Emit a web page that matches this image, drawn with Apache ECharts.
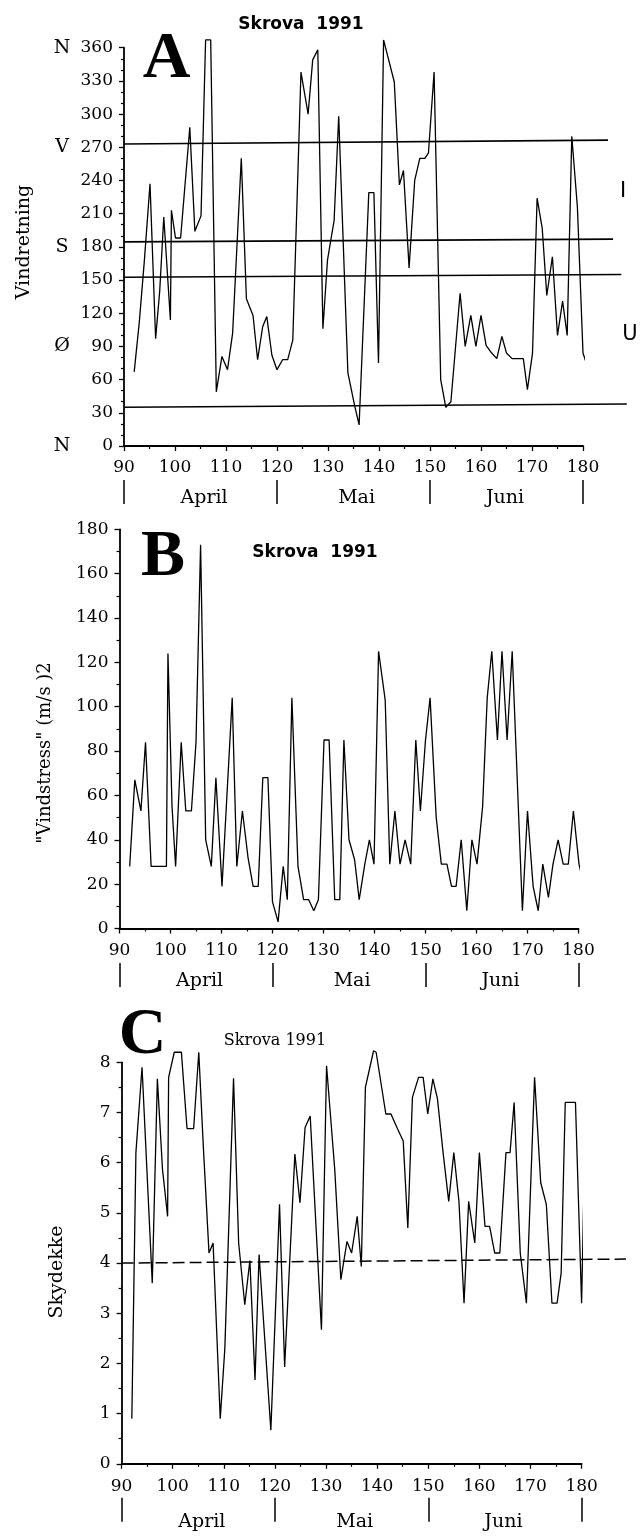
<!DOCTYPE html>
<html><head><meta charset="utf-8">
<script src="https://cdn.jsdelivr.net/npm/echarts@6/dist/echarts.min.js"></script>
<style>html,body{margin:0;padding:0;background:#fff}#c{width:640px;height:1536px}</style>
</head><body><div id="c"></div>
<script>
// ---- Panel A: wind direction (degrees) ----
const dirDays = [92,93,94,95.1,96.2,97,97.8,99.1,99.3,100.1,101.1,102.9,103.9,105.1,106,107,108.1,109.2,110.3,111.3,113,114,115.3,116.2,117.2,118,119,120,121.1,122.1,123.1,124.7,126.1,127,128,129,129.9,131.2,132.1,133.9,135.2,136.1,138,139,139.9,140.9,143,144,144.8,145.9,147,148,149,149.7,150.8,152.1,153.1,154.1,155.9,156.9,158,159,160,161,162.1,163.1,164.1,165,166.1,167.2,168.3,169.1,170.1,171,172,172.9,174,175,176,176.9,177.8,178.9,180,181];
const dirValues = [67,112,168,237,97,140,207,114,213,188,188,288,194,208,367,367,49,81,69,102,260,133,118,78,108,117,82,69,78,78,96,338,300,349,358,106,168,204,298,66,37,19,229,229,75,367,329,236,249,161,240,260,260,265,338,60,35,40,138,90,118,90,118,91,84,79,99,84,79,79,79,51,84,224,197,136,171,100,131,100,280,216,84,70];
// reference lines in panel A (value at start, value at end, day where the line ends)
const dirRefStart = [273, 184.5, 152.5, 35];
const dirRefEnd = [276.5, 187, 155, 38];
const dirRefEndDay = [184.9, 185.9, 187.5, 188.6];
const compassValues = [0, 90, 180, 270, 360];
const compassLetters = ['N', 'Ø', 'S', 'V', 'N'];

// ---- Panel B: wind stress ----
const stressDays = [92,93,94.2,95.1,96.2,99.2,99.5,100.3,101,102.1,103,104.1,105,105.9,106.9,108,108.9,110.1,112.1,113,114.1,115.2,116.2,117.2,118.1,119.1,120,121.1,122.1,122.9,123.8,125,126.1,127.1,128.1,129,130.1,131.1,132.2,133.2,134,135,136.1,137,138.1,139,139.9,140.8,142.1,143,144,145,146,147.1,148.1,149,150,150.9,152.1,153.1,154.2,155.1,156,157,158.1,159.1,160.1,161.2,162.1,163,164.1,165,166,167,169,170,171.1,172.1,173,174.1,175,176,177,178,179,180.1,181];
const stressValues = [28,67,53,84,28,28,124,55,28,84,53,53,84,173,40,28,68,19,104,28,53,32,19,19,68,68,12,3,28,13,104,28,13,13,8,13,85,85,13,13,85,40,31,13,29,40,29,125,103,29,53,29,40,29,85,53,85,104,50,29,29,19,19,40,8,40,29,55,104,125,85,125,85,125,8,53,19,8,29,14,29,40,29,29,53,29,20];

// ---- Panel C: cloud cover ----
const cloudDays = [92,92.8,94,96,97,98,99,99.2,100.3,101.7,102.8,104.1,105.1,106,107.1,107.9,109.3,110.2,111.9,112.9,114.1,115.1,116.1,116.9,119.2,120.9,121.9,123.9,124.9,125.9,126.9,129.1,130.1,131.7,132.9,134.1,135,136.1,136.9,137.7,139.3,139.8,141.7,142.7,144,145.1,146,146.9,148.1,149,149.9,150.9,151.8,152.9,154,155,156,157,157.9,159.1,160,161.1,162,163,164,165.2,166,166.8,168,169.2,170.8,172,173.1,174.2,175.2,176,176.8,178.8,180,180.8];
const cloudValues = [0.9,6.2,7.9,3.6,7.67,5.87,4.93,7.7,8.2,8.2,6.68,6.68,8.2,6.3,4.2,4.4,0.9,2.3,7.68,4.4,3.17,4.05,1.67,4.17,0.67,5.17,1.93,6.17,5.2,6.7,6.93,2.67,7.93,5.87,3.67,4.43,4.2,4.93,3.93,7.5,8.23,8.2,6.97,6.97,6.67,6.43,4.7,7.3,7.7,7.7,6.97,7.67,7.27,6.2,5.23,6.2,5.23,3.2,5.23,4.4,6.2,4.73,4.73,4.2,4.2,6.2,6.2,7.2,4.2,3.2,7.7,5.6,5.17,3.2,3.2,3.8,7.2,7.2,3.2,7.2];
const cloudRefStart = 4.0, cloudRefEnd = 4.08, cloudRefEndDay = 188.7;

// ---- month markers on the day axis ----
const monthBoundaries = [90, 120, 150, 180];
const monthLabelDays = [105.7, 135.6, 164.7];
const monthNames = ['April', 'Mai', 'Juni'];

const zip = (a, b) => a.map((d, i) => [d, b[i]]);
const SERIF = 'DejaVu Serif';
const tickFont = { fontFamily: SERIF, fontSize: 17, color: '#000' };
const axLine = { show: true, onZero: false, lineStyle: { color: '#000', width: 1.8 } };

function dayAxis(grid, margin) {
  return {
    type: 'value', gridIndex: grid, min: 90, max: 180, interval: 10, position: 'bottom',
    axisLine: axLine,
    axisTick: { show: true, inside: false, length: 5, lineStyle: { color: '#000', width: 1.3 } },
    minorTick: { show: true, splitNumber: 2, length: 3, lineStyle: { color: '#000', width: 1.2 } },
    axisLabel: Object.assign({ margin: margin }, tickFont),
    splitLine: { show: false }
  };
}
function monthAxis(grid, offset, margin) {
  return {
    type: 'value', gridIndex: grid, min: 90, max: 180, position: 'bottom', offset: offset,
    axisLine: { show: false, onZero: false },
    axisTick: { show: true, inside: false, length: 24, customValues: monthBoundaries, lineStyle: { color: '#000', width: 1.5 } },
    axisLabel: { margin: margin, fontSize: 19, fontFamily: SERIF, color: '#000', customValues: monthLabelDays,
      formatter: v => monthNames[monthLabelDays.indexOf(v)] || '' },
    splitLine: { show: false }
  };
}
function valAxis(grid, max, interval, minorSplit) {
  return {
    type: 'value', gridIndex: grid, min: 0, max: max, interval: interval, position: 'left',
    axisLine: axLine,
    axisTick: { show: true, inside: false, length: 5, lineStyle: { color: '#000', width: 1.3 } },
    minorTick: { show: true, splitNumber: minorSplit, length: 3, lineStyle: { color: '#000', width: 1.2 } },
    axisLabel: Object.assign({ margin: 11 }, tickFont),
    splitLine: { show: false }
  };
}
const hidden = (grid, max, type) => ({ type: 'value', gridIndex: grid, min: type === 'x' ? 90 : 0, max: max, show: false, axisLine: { onZero: false } });

const lineStyle = { color: '#000', width: 1.3 };
const series = [
  { type: 'line', xAxisIndex: 0, yAxisIndex: 0, data: zip(dirDays, dirValues), symbol: 'none', clip: false, lineStyle },
  { type: 'line', xAxisIndex: 2, yAxisIndex: 2, data: zip(stressDays, stressValues), symbol: 'none', clip: false, lineStyle },
  { type: 'line', xAxisIndex: 4, yAxisIndex: 3, data: zip(cloudDays, cloudValues), symbol: 'none', clip: false, lineStyle }
];
dirRefStart.forEach((v, i) => series.push({
  type: 'line', xAxisIndex: 6, yAxisIndex: 4, symbol: 'none', clip: false,
  data: [[90, v], [dirRefEndDay[i], dirRefEnd[i]]], lineStyle: { color: '#000', width: 1.6 }
}));
series.push({
  type: 'line', xAxisIndex: 7, yAxisIndex: 5, symbol: 'none', clip: false,
  data: [[90, cloudRefStart], [cloudRefEndDay, cloudRefEnd]],
  lineStyle: { color: '#000', width: 1.5, type: [12, 5] }
});

const txt = (x, y, text, font, extra) => Object.assign({
  type: 'text', x: x, y: y,
  style: Object.assign({ text: text, fill: '#000', align: 'center', verticalAlign: 'middle' }, font)
}, extra || {});

const option = {
  animation: false,
  backgroundColor: '#fff',
  grid: [
    { left: 124, top: 47.7, width: 459, height: 398.3 },
    { left: 119.5, top: 529.3, width: 459, height: 399.2 },
    { left: 121.6, top: 1062.3, width: 460, height: 401.5 },
    { left: 124, top: 47.7, width: 503, height: 398.3 },
    { left: 121.6, top: 1062.3, width: 504.4, height: 401.5 }
  ],
  xAxis: [
    dayAxis(0, 13), monthAxis(0, 34, 9),
    dayAxis(1, 14), monthAxis(1, 34.5, 9),
    dayAxis(2, 14), monthAxis(2, 34, 15),
    hidden(3, 188.63, 'x'), hidden(4, 188.7, 'x')
  ],
  yAxis: [
    valAxis(0, 360, 30, 3),
    { type: 'value', gridIndex: 0, min: 0, max: 360, interval: 90, position: 'left', offset: 62,
      axisLine: { show: false, onZero: false }, axisTick: { show: false }, splitLine: { show: false },
      axisLabel: { margin: 0, align: 'center', fontFamily: SERIF, fontSize: 19, color: '#000',
        formatter: v => compassLetters[compassValues.indexOf(v)] } },
    valAxis(1, 180, 20, 2),
    valAxis(2, 8, 1, 2),
    hidden(3, 360, 'y'), hidden(4, 8, 'y')
  ],
  series: series,
  graphic: [
    txt(301, 25, 'Skrova  1991', { fontFamily: 'DejaVu Sans', fontWeight: 'bold', fontSize: 17 }),
    txt(315, 552.5, 'Skrova  1991', { fontFamily: 'DejaVu Sans', fontWeight: 'bold', fontSize: 17 }),
    txt(275, 1041, 'Skrova 1991', { fontFamily: SERIF, fontSize: 16 }),
    txt(166.5, 60, 'A', { fontFamily: 'Liberation Serif', fontWeight: 'bold', fontSize: 66 }),
    txt(163, 558, 'B', { fontFamily: 'Liberation Serif', fontWeight: 'bold', fontSize: 66 }),
    txt(142.5, 1036, 'C', { fontFamily: 'Liberation Serif', fontWeight: 'bold', fontSize: 66 }),
    txt(623, 192, 'I', { fontFamily: 'DejaVu Sans', fontSize: 21 }),
    txt(630, 335, 'U', { fontFamily: 'DejaVu Sans', fontSize: 21 }),
    txt(24, 242, 'Vindretning', { fontFamily: SERIF, fontSize: 19 }, { rotation: Math.PI / 2 }),
    txt(45, 753, '"Vindstress" (m/s )2', { fontFamily: SERIF, fontSize: 18 }, { rotation: Math.PI / 2 }),
    txt(57, 1272, 'Skydekke', { fontFamily: SERIF, fontSize: 19 }, { rotation: Math.PI / 2 })
  ]
};
const chart = echarts.init(document.getElementById('c'), null, { renderer: 'canvas' });
chart.setOption(option);
</script></body></html>
